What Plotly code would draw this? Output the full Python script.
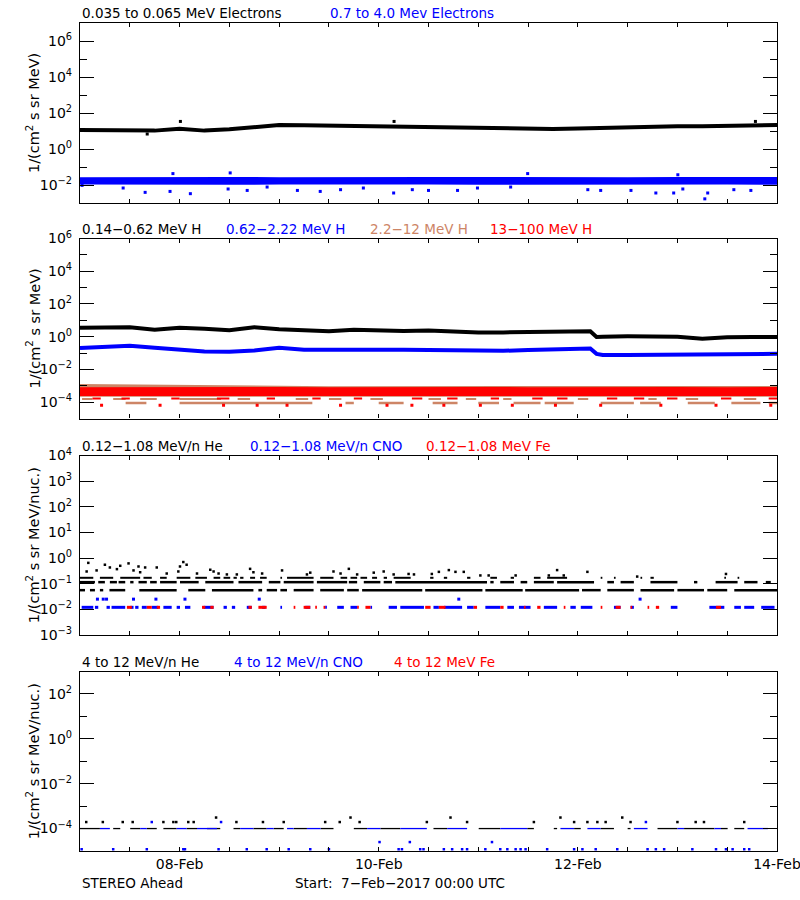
import plotly.graph_objects as go

# ---------------- data ----------------
# time in hours since 7-Feb-2017 00:00 UTC
E_HOURS = [0, 6, 12, 18, 24, 30, 36, 42, 48, 54, 60, 66, 72, 78, 84, 90, 96,
           102, 108, 114, 120, 126, 132, 138, 144, 150, 156, 162, 168]
E_LOW = [11.2, 11.2, 11.0, 10.5, 13.2, 10.5, 12.6, 15.8, 21.4, 20.9, 20.0, 19.1,
         18.6, 18.2, 17.4, 15.8, 14.8, 13.5, 13.2, 12.9, 13.8, 15.1, 16.2, 17.4,
         18.2, 18.6, 19.1, 20.4, 21.4]
E_LOW_OUT_H = [24.2, 75.7, 16.2, 162.8]
E_LOW_OUT_V = [34.0, 34.0, 6.8, 34.0]

BAND_HOURS = [0, 12, 24, 36, 48, 60, 72, 84, 96, 108, 120, 132, 144, 156, 168]
E_HIGH_LO = [0.0105, 0.0102, 0.0105, 0.0103, 0.0105, 0.0102, 0.0104, 0.0105,
             0.0103, 0.0105, 0.0102, 0.0104, 0.0103, 0.0105, 0.0104]
E_HIGH_HI = [0.027, 0.028, 0.027, 0.028, 0.027, 0.028, 0.027, 0.028, 0.028,
             0.027, 0.028, 0.027, 0.028, 0.027, 0.028]
E_HIGH_OUT_H = [0.5, 10.4, 15.7, 21.7, 26.6, 35.7, 40.3, 45.1, 52.4, 57.9, 62.8,
                68.3, 75.6, 22.4, 36.2, 80.1, 84.0, 91.0, 95.8, 103.8, 122.4,
                125.5, 132.8, 138.8, 143.1, 145.3, 151.3, 150.6, 157.6, 161.7,
                107.9, 144.1]
E_HIGH_OUT_V = [0.0095, 0.0068, 0.0039, 0.0044, 0.0033, 0.0060, 0.0050, 0.0077,
                0.0050, 0.0044, 0.0055, 0.0068, 0.0036, 0.043, 0.047, 0.0055,
                0.0050, 0.0050, 0.0068, 0.0077, 0.0055, 0.0050, 0.0050, 0.0036,
                0.0036, 0.0060, 0.0036, 0.0017, 0.0055, 0.0050, 0.043, 0.037]

H_HOURS = [0, 6, 12, 18, 24, 30, 36, 42, 48, 54, 60, 66, 72, 78, 84, 90, 96, 102,
           108, 114, 120, 123, 124.5, 126, 132, 138, 144, 150, 156, 162, 168]
H_LOW = [3.55, 3.72, 3.80, 2.63, 3.55, 3.02, 2.51, 3.80, 2.82, 2.51, 2.14, 2.63,
         2.34, 2.19, 2.40, 2.00, 1.78, 1.82, 1.86, 2.00, 2.14, 2.14, 0.95, 1.00,
         1.05, 1.05, 1.00, 0.76, 0.93, 0.95, 0.95]
H_MID = [0.200, 0.240, 0.282, 0.209, 0.158, 0.126, 0.120, 0.141, 0.209, 0.158,
         0.158, 0.166, 0.158, 0.158, 0.151, 0.141, 0.132, 0.138, 0.151, 0.158,
         0.166, 0.191, 0.089, 0.076, 0.076, 0.079, 0.083, 0.079, 0.083, 0.087, 0.089]
H_TAN_LO = [2.1e-4, 2.1e-4, 2.1e-4, 2.1e-4, 2.1e-4, 2.1e-4, 2.1e-4, 2.1e-4,
            2.1e-4, 2.1e-4, 2.1e-4, 2.1e-4, 2.1e-4, 2.1e-4, 2.1e-4]
H_TAN_HI = [1.3e-3, 1.25e-3, 1.2e-3, 1.1e-3, 1.0e-3, 9.5e-4, 9.6e-4, 9.5e-4,
            9.6e-4, 9.5e-4, 9.6e-4, 9.5e-4, 9.6e-4, 9.5e-4, 9.6e-4]
H_RED_LO = [2.4e-4, 2.4e-4, 2.4e-4, 2.4e-4, 2.4e-4, 2.4e-4, 2.4e-4, 2.4e-4,
            2.4e-4, 2.4e-4, 2.4e-4, 2.4e-4, 2.4e-4, 2.4e-4, 2.4e-4]
H_RED_HI = [8.2e-4, 8.5e-4, 8.2e-4, 8.2e-4, 8.5e-4, 8.2e-4, 8.5e-4, 8.2e-4,
            8.5e-4, 8.2e-4, 8.5e-4, 8.2e-4, 8.5e-4, 8.2e-4, 8.5e-4]
TAN_DASH_A = [[11, 16], [24, 56], [64, 66], [72, 78], [85, 91], [96, 101],
              [104.5, 111], [112, 119], [125.5, 133.5], [135, 140], [146.5, 153],
              [157, 164], [166, 168]]
TAN_DASH_A_LEVEL = 8.9e-5
TAN_DASH_B = [[0.5, 3], [8, 11], [14.5, 18.5], [24, 34], [38, 41], [52, 55],
              [60, 63], [70, 73], [84, 87], [93, 95.5], [102, 104], [120, 122.5],
              [137, 139], [146, 149], [160, 163]]
TAN_DASH_B_LEVEL = 1.55e-4
RED_DASH = [[3, 5], [10, 12], [22, 24], [33, 36], [45, 47], [56, 58], [66, 68],
            [80, 82.5], [88.5, 91], [99, 101], [109, 111.5], [115, 117.5],
            [127, 129.5], [133.5, 136], [141.5, 144], [154.5, 157], [166, 168]]
RED_DASH_LEVEL = 1.66e-4
RED_LOW_H = [5.2, 19.3, 34.6, 42.7, 49.9, 62.8, 74.0, 80.0, 87.7, 96.5, 104.2,
             114.6, 125.5, 140.0, 153.3, 166.5]
RED_LOW_V = [6.4e-5] * 16

# 0.12-1.08 MeV/n He, CNO, Fe
HE1_LEVEL_A = 0.056
HE1_SEG_A = [[0, 1.2], [2.4, 3.6], [4.8, 5.6], [7.1, 10.9], [14.3, 23.3], [26.1, 30.2],
             [31.8, 41.8], [43, 43.9], [45, 47.5], [48.3, 49.9], [51.5, 56.3],
             [57.9, 63.6], [64.4, 67.2], [68, 82.5], [83.2, 97], [97.7, 106.7],
             [107.3, 120.3], [121, 125.5], [127.1, 133.5], [135.1, 143.2],
             [144, 150.4], [151.2, 156], [157.7, 168]]
HE1_LEVEL_B = 0.115
HE1_SEG_B = [[0, 3.6], [4.4, 6], [7.2, 8.9], [9.3, 10.9], [12.1, 12.9], [14.1, 16.1],
             [16.9, 18.5], [19.3, 23.3], [24.1, 28.6], [30.2, 37], [38.2, 43.9],
             [45.5, 48.3], [49.1, 56.3], [57.1, 64.4], [64.8, 66.8], [68.4, 72.4],
             [73.2, 75.2], [76, 98.1], [98.9, 99.7], [101.3, 104.6], [106.2, 107.8],
             [109.4, 114.2], [115, 123.9], [127.1, 128.7], [130.3, 133.5],
             [137.5, 144], [148, 148.8], [153.2, 158.5], [160.1, 163.3], [165.3, 166.5]]
HE1_LEVEL_C = 0.17
HE1_SEG_C = [[0, 3.2], [4.8, 8], [9.7, 14.5], [15.3, 17.3], [19.3, 20.9], [23.3, 26.6],
             [27.8, 30.6], [32.2, 33.8], [34.6, 36.2], [37, 37.8], [38.6, 39.4],
             [41, 42.2], [43.4, 45], [48.3, 48.7], [49.9, 56.3], [57.9, 61.1],
             [62.8, 64.4], [65.2, 66.8], [67.6, 69.2], [70.4, 71.6], [73.2, 74],
             [75.6, 79.7], [84.4, 85.2], [87.7, 88.5], [93.3, 94.1], [98.9, 100.5],
             [103.8, 104.6], [109.4, 111], [112.6, 117.4], [125.5, 125.9],
             [128.7, 129.1], [135.1, 135.5], [137.5, 138.3], [155.3, 155.7],
             [158.5, 158.9]]
HE1_HIGH_H = [2.0, 6.0, 9.7, 11.7, 14.1, 15.7, 24.9, 25.7, 24.1, 31.4, 32.2, 41.0,
              48.7, 55.5, 61.1, 64.8, 73.2, 80.5, 1.6, 4.0, 7.2, 8.9, 12.9, 14.5,
              18.5, 20.9, 23.7, 28.2, 33.4, 35.4, 37.8, 41.8, 43.9, 54.7, 62.8,
              66.8, 70.8, 75.6, 79.2, 84.8, 86.5, 88.9, 90.5, 92.5, 96.5, 98.5,
              105.0, 113.0, 115.0, 116.6, 122.3, 134.3, 155.7]
HE1_HIGH_V = [0.65, 0.55, 0.50, 0.62, 0.47, 0.43, 0.70, 0.55, 0.47, 0.35, 0.30, 0.38,
              0.33, 0.27, 0.30, 0.38, 0.30, 0.23, 0.30, 0.33, 0.43, 0.37, 0.33, 0.28,
              0.43, 0.25, 0.30, 0.25, 0.25, 0.23, 0.23, 0.28, 0.25, 0.23, 0.25,
              0.23, 0.27, 0.23, 0.24, 0.24, 0.29, 0.34, 0.29, 0.29, 0.21, 0.21,
              0.21, 0.21, 0.34, 0.21, 0.29, 0.19, 0.24]
CNO1_LEVEL = 0.012
CNO1_SEG = [[0.4, 3.2], [3.6, 4.4], [6.4, 7.2], [7.6, 10.9], [12.1, 12.9], [13.3, 14.1],
            [14.9, 16.1], [17.3, 18.9], [20.1, 22.1], [23.3, 24.1], [25.3, 26.6],
            [29.8, 32.2], [34.6, 35.4], [36.6, 37.4], [40.2, 41.4], [43.9, 44.7],
            [48.3, 48.7], [54.3, 55.5], [59.1, 59.5], [62, 63.6], [65.2, 66.8],
            [70, 70.4], [74.4, 76.4], [77.2, 82.9], [85.2, 86.5], [87.7, 92.1],
            [93.3, 94.9], [97.7, 101.3], [103, 104.6], [105.8, 108.6], [111.8, 115],
            [118.2, 119.5], [120.7, 123.5], [128.7, 130.3], [132.7, 133.5],
            [142.4, 144], [151.7, 155.3], [157.7, 159.3], [160.1, 162.5], [164.2, 167.4]]
CNO1_HIGH_H = [4.2, 5.6, 6.4, 12.9, 18.3, 25.3, 43.2, 91.3, 135.0]
CNO1_HIGH_V = [0.025] * 9
FE1_LEVEL = 0.012
FE1_SEG = [[11.3, 12.5], [16.1, 17.3], [18.5, 19.3], [29.4, 30.2], [31.4, 32.2],
           [40.6, 41.4], [43, 45], [51.5, 51.9], [53.9, 55.5], [56.7, 57.1],
           [58.7, 59.1], [66.8, 67.2], [68.8, 70], [83.2, 84.5], [86.5, 88.1],
           [94.9, 95.7], [101.3, 102.1], [107, 107.4], [110.2, 111], [116.6, 117],
           [125.5, 125.9], [129.1, 130.3], [132.7, 133.1], [136.8, 137.2],
           [138.8, 139.6], [153.3, 154.5]]

# 4 to 12 MeV/n He, CNO
HE4_LEVEL = 1.0e-4
HE4_SEG = [[0, 4.8], [8, 9.7], [12.1, 14.5], [16.1, 18.5], [20.1, 23.3], [25.7, 28.2],
           [30.6, 33.8], [37, 38.6], [41.8, 45], [46.7, 49.1], [51.5, 54.7], [58, 61.1],
           [66, 69.2], [72.4, 77.2], [85.2, 88.5], [96.1, 101.3], [107.8, 109.4],
           [114.2, 115], [119.1, 120.7], [125.5, 128.7], [132, 132.7], [139.2, 144],
           [145.6, 152.9], [154.5, 156.1], [157.7, 160.1]]
HE4_DOT_H = [1.5, 5.5, 10.3, 12.7, 20.1, 22.5, 23.2, 26.1, 27.4, 37.7, 44.1, 49.1,
             59.1, 62.6, 67.4, 83.6, 93.3, 109.4, 119.1, 122.3, 124.7, 126.7,
             132.7, 144.0, 148.4, 150.4, 160.1, 32.8, 65.2, 89.3, 115.8, 130.7]
HE4_DOT_V = [1.95e-4] * 27 + [3.1e-4] * 5
CNO4_LEVEL = 1.0e-4
CNO4_SEG = [[4.8, 7.2], [14.5, 16.1], [23.3, 25.7], [28.2, 33], [38.6, 41.8],
            [45, 46.7], [49.9, 51.5], [54.7, 58], [69.2, 72.4], [77.2, 83.6],
            [88.5, 93.3], [101.3, 107.8], [115.8, 119.1], [122.3, 125.5],
            [133.5, 136.8], [144, 145.6], [152.9, 154.5], [160.9, 165.8]]
CNO4_DOT_H = [17.3, 34.0, 136.4, 72.2, 79.5, 99.3,
              0.4, 8.0, 16.1, 24.9, 25.3, 33.4, 40.2, 45.0, 50.3, 55.5, 60.0, 76.8,
              77.6, 82.0, 82.8, 87.7, 89.7, 92.1, 93.3, 97.7, 101.3, 103.0, 105.0,
              106.2, 107.4, 112.6, 119.1, 121.1, 124.3, 129.5, 136.8, 138.8, 140.8,
              147.6, 153.3, 155.7, 157.3, 160.1, 161.3]
CNO4_DOT_V = [1.95e-4] * 3 + [2.5e-5] * 3 + [1.2e-5] * 39

X_LABEL_TICKS = [24, 72, 120, 168]
X_LABELS = ["08-Feb", "10-Feb", "12-Feb", "14-Feb"]
X_MINOR_TICKS = [12, 36, 48, 60, 84, 96, 108, 132, 144, 156]

# ---------------- styling ----------------
W, H = 800, 900
BLACK, BLUE, TAN, RED = "#000000", "#0000FF", "#CD8566", "#FF0000"
FONT = "DejaVu Sans"
X0, X1 = 80, 777
PANELS = [  # top px, bottom px, log range, major exps, minor exps, ytitle
    (23, 203, [-3, 7], [-2, 0, 2, 4, 6], [-1, 1, 3, 5], "1/(cm<sup>2</sup> s sr MeV)"),
    (238.5, 418.5, [-5, 6], [-4, -2, 0, 2, 4, 6], [-5, -3, -1, 1, 3, 5], "1/(cm<sup>2</sup> s sr MeV)"),
    (455.5, 635, [-3, 4], [-3, -2, -1, 0, 1, 2, 3, 4], [], "1/(cm<sup>2</sup> s sr MeV/nuc.)"),
    (671.5, 851, [-5, 3], [-4, -2, 0, 2], [-3, -1, 1], "1/(cm<sup>2</sup> s sr MeV/nuc.)"),
]


def segs(intervals, level):
    xs, ys = [], []
    for a, b in intervals:
        xs += [a, b, None]
        ys += [level, level, None]
    return xs, ys


fig = go.Figure()


def add_line(i, x, y, color, width):
    fig.add_trace(go.Scatter(x=x, y=y, mode="lines", line=dict(color=color, width=width),
                             xaxis=f"x{i}", yaxis=f"y{i}", showlegend=False, hoverinfo="skip",
                             connectgaps=False))


def add_dots(i, x, y, color, size=3):
    fig.add_trace(go.Scatter(x=x, y=y, mode="markers",
                             marker=dict(color=color, size=size, symbol="square", line=dict(width=0)),
                             xaxis=f"x{i}", yaxis=f"y{i}", showlegend=False, hoverinfo="skip"))


def add_band(i, x, lo, hi, color, opacity=1.0):
    fig.add_trace(go.Scatter(x=x, y=lo, mode="lines", line=dict(width=0, color=color),
                             xaxis=f"x{i}", yaxis=f"y{i}", showlegend=False, hoverinfo="skip"))
    fig.add_trace(go.Scatter(x=x, y=hi, mode="lines", line=dict(width=0, color=color),
                             fill="tonexty", fillcolor=color, opacity=opacity,
                             xaxis=f"x{i}", yaxis=f"y{i}", showlegend=False, hoverinfo="skip"))


# Panel 1
add_line(1, E_HOURS, E_LOW, BLACK, 4)
add_dots(1, E_LOW_OUT_H, E_LOW_OUT_V, BLACK)
add_band(1, BAND_HOURS, E_HIGH_LO, E_HIGH_HI, BLUE, 0.8)
add_dots(1, E_HIGH_OUT_H, E_HIGH_OUT_V, BLUE)

# Panel 2
add_band(2, BAND_HOURS, H_TAN_LO, H_TAN_HI, TAN)
add_band(2, BAND_HOURS, H_RED_LO, H_RED_HI, RED, 0.9)
add_line(2, *segs(TAN_DASH_A, TAN_DASH_A_LEVEL), TAN, 2.5)
add_line(2, *segs(TAN_DASH_B, TAN_DASH_B_LEVEL), TAN, 2)
add_line(2, *segs(RED_DASH, RED_DASH_LEVEL), RED, 2)
add_dots(2, RED_LOW_H, RED_LOW_V, RED)
add_line(2, H_HOURS, H_LOW, BLACK, 4)
add_line(2, H_HOURS, H_MID, BLUE, 4)

# Panel 3
add_line(3, *segs(HE1_SEG_A, HE1_LEVEL_A), BLACK, 2.5)
add_line(3, *segs(HE1_SEG_B, HE1_LEVEL_B), BLACK, 2.5)
add_line(3, *segs(HE1_SEG_C, HE1_LEVEL_C), BLACK, 2)
add_dots(3, HE1_HIGH_H, HE1_HIGH_V, BLACK, 2.5)
add_line(3, *segs(CNO1_SEG, CNO1_LEVEL), BLUE, 3)
add_line(3, *segs(FE1_SEG, FE1_LEVEL), RED, 3)
add_dots(3, CNO1_HIGH_H, CNO1_HIGH_V, BLUE, 3)

# Panel 4
add_line(4, *segs(HE4_SEG, HE4_LEVEL), BLACK, 1.3)
add_line(4, *segs(CNO4_SEG, CNO4_LEVEL), BLUE, 1.3)
add_dots(4, HE4_DOT_H, HE4_DOT_V, BLACK, 2.5)
add_dots(4, CNO4_DOT_H, CNO4_DOT_V, BLUE, 2.5)


def sup(e):
    return f"10<sup>{e}</sup>".replace("-", "\u2212")


layout = dict(width=W, height=H, margin=dict(l=0, r=0, t=0, b=0, autoexpand=False),
              paper_bgcolor="white", plot_bgcolor="white",
              font=dict(family=FONT, size=14, color="black"))
annotations = []
for k, (top, bot, rng, majors, minors, ytitle) in enumerate(PANELS, start=1):
    sfx = "" if k == 1 else str(k)
    layout["xaxis" + sfx] = dict(
        domain=[X0 / W, X1 / W], range=[0, 168], anchor="y" + sfx,
        showline=True, linecolor="black", linewidth=1.3, mirror="allticks",
        ticks="inside", ticklen=4, tickwidth=1.3, tickcolor="black",
        tickmode="array", tickvals=X_LABEL_TICKS, ticktext=X_LABELS,
        showticklabels=(k == 4), showgrid=False, zeroline=False, automargin=False,
        ticklabeloverflow="allow", ticklabelstandoff=0,
        tickfont=dict(family=FONT, size=14),
        minor=dict(ticks="inside", ticklen=4, tickwidth=1.3, tickcolor="black",
                   tickmode="array", tickvals=X_MINOR_TICKS, showgrid=False))
    layout["yaxis" + sfx] = dict(
        domain=[1 - bot / H, 1 - top / H], type="log", range=rng, anchor="x" + sfx,
        showline=True, linecolor="black", linewidth=1.3, mirror="allticks",
        ticks="inside", ticklen=14, tickwidth=1.3, tickcolor="black",
        tickmode="array", tickvals=[10.0 ** e for e in majors],
        ticktext=[sup(e) for e in majors], showgrid=False, zeroline=False, automargin=False,
        ticklabeloverflow="allow", ticklabelstandoff=4,
        tickfont=dict(family=FONT, size=14),
        minor=dict(ticks="inside" if minors else "", ticklen=7, tickwidth=1.3,
                   tickcolor="black", tickmode="array",
                   tickvals=[10.0 ** e for e in minors], showgrid=False))
    annotations.append(dict(x=33 / W, y=1 - (top + bot) / 2 / H, xref="paper", yref="paper",
                            text=ytitle, textangle=-90, showarrow=False,
                            font=dict(family=FONT, size=14.5), xanchor="center", yanchor="middle"))

TITLES = [
    (13.3, [(80, "0.035 to 0.065 MeV Electrons", BLACK), (328, "0.7 to 4.0 Mev Electrons", BLUE)]),
    (229, [(80, "0.14-0.62 MeV H", BLACK), (224, "0.62-2.22 MeV H", BLUE),
           (368, "2.2-12 MeV H", TAN), (488, "13-100 MeV H", RED)]),
    (445.7, [(80, "0.12-1.08 MeV/n He", BLACK), (248, "0.12-1.08 MeV/n CNO", BLUE),
             (424, "0.12-1.08 MeV Fe", RED)]),
    (661.7, [(80, "4 to 12 MeV/n He", BLACK), (232, "4 to 12 MeV/n CNO", BLUE),
             (392, "4 to 12 MeV Fe", RED)]),
]
for ypx, items in TITLES:
    for xpx, txt, col in items:
        annotations.append(dict(x=xpx / W, y=1 - ypx / H, xref="paper", yref="paper",
                                text=txt.replace("-", "\u2212"), showarrow=False,
                                xanchor="left", yanchor="middle",
                                font=dict(family=FONT, size=13.5, color=col)))
annotations.append(dict(x=80 / W, y=1 - 882.5 / H, xref="paper", yref="paper", text="STEREO Ahead",
                        showarrow=False, xanchor="left", yanchor="middle",
                        font=dict(family=FONT, size=13.5)))
annotations.append(dict(x=293 / W, y=1 - 882.5 / H, xref="paper", yref="paper",
                        text="Start:  7\u2212Feb\u22122017 00:00 UTC", showarrow=False,
                        xanchor="left", yanchor="middle", font=dict(family=FONT, size=13.5)))
layout["annotations"] = annotations
fig.update_layout(**layout)
fig.write_html("out.html", config={"displayModeBar": False},
               post_script="document.body.style.margin='0px';")
